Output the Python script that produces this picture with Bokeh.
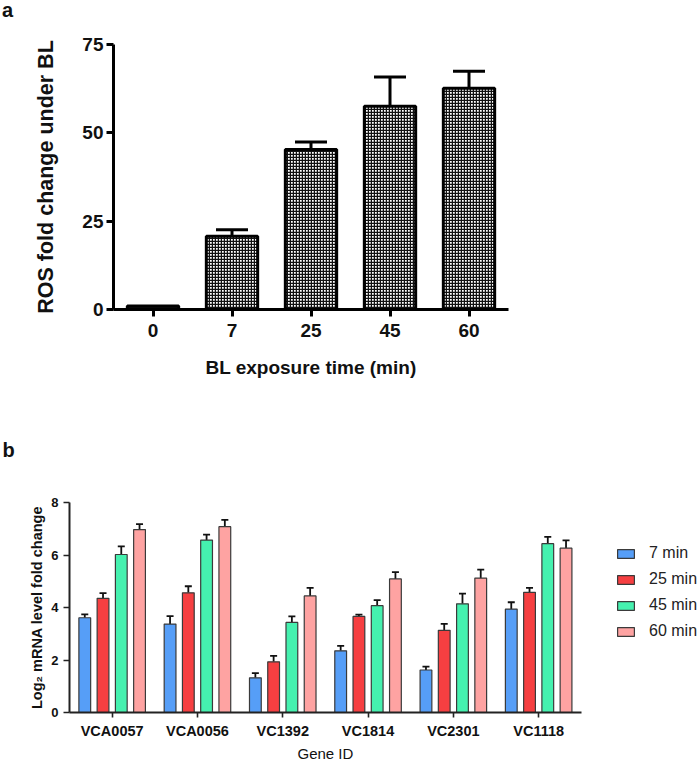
from bokeh.plotting import figure
from bokeh.models import FactorRange, Range1d, Whisker, TeeHead, ColumnDataSource, FixedTicker, Div, Title
from bokeh.transform import dodge
from bokeh.embed import file_html
from bokeh.resources import INLINE

# ---------------- data ----------------
# panel a
times = ["0", "7", "25", "45", "60"]
ros = [1.0, 20.75, 45.3, 57.5, 62.6]
ros_sem = [0.0, 1.85, 2.1, 8.3, 4.8]

# panel b
genes = ["VCA0057", "VCA0056", "VC1392", "VC1814", "VC2301", "VC1118"]
series = ["7 min", "25 min", "45 min", "60 min"]
m7 = [3.61, 3.37, 1.32, 2.35, 1.62, 3.94]
m25 = [4.35, 4.56, 1.93, 3.66, 3.13, 4.58]
m45 = [6.02, 6.57, 3.43, 4.07, 4.14, 6.43]
m60 = [6.97, 7.08, 4.44, 5.09, 5.12, 6.26]
s7 = [0.13, 0.30, 0.18, 0.19, 0.13, 0.26]
s25 = [0.20, 0.25, 0.23, 0.07, 0.25, 0.17]
s45 = [0.31, 0.21, 0.23, 0.21, 0.39, 0.26]
s60 = [0.21, 0.26, 0.31, 0.26, 0.32, 0.30]

FONT = "Liberation Sans"
TXT = "#111111"

# ---------------- panel label a ----------------
div_a = Div(text="a", width=700, height=20, margin=0,
            styles={"font-family": FONT, "font-weight": "bold", "font-size": "20px",
                    "line-height": "20px", "padding-left": "2px", "color": TXT})

# ---------------- panel a ----------------
pa = figure(width=700, height=368, x_range=FactorRange(factors=times),
            y_range=Range1d(0, 75), output_backend="svg", toolbar_location=None,
            min_border_left=113, min_border_right=192, min_border_top=24,
            min_border_bottom=79)
pa.outline_line_color = None
pa.grid.visible = False

src_a = ColumnDataSource(dict(t=times, ros=ros))
pa.vbar(x="t", top="ros", width=0.65, source=src_a, fill_color="white",
        hatch_pattern="cross", hatch_scale=3, hatch_weight=1.5, hatch_color="#111111",
        line_color="black", line_width=3)
src_ae = ColumnDataSource(dict(t=times[1:], ros=ros[1:],
                               hi=[v + e for v, e in zip(ros[1:], ros_sem[1:])]))
pa.add_layout(Whisker(base="t", lower="ros", upper="hi", source=src_ae,
                      line_color="black", line_width=3, lower_head=None,
                      upper_head=TeeHead(size=32, line_width=3, line_color="black")))

for ax in (pa.xaxis[0], pa.yaxis[0]):
    ax.axis_line_width = 3
    ax.axis_line_color = "black"
    ax.major_tick_line_width = 3
    ax.major_tick_line_color = "black"
    ax.major_tick_out = 7
    ax.major_tick_in = 0
    ax.minor_tick_out = 0
    ax.minor_tick_in = 0
    ax.major_label_text_font = FONT
    ax.major_label_text_font_style = "bold"
    ax.major_label_text_font_size = "19px"
    ax.major_label_text_color = TXT
    ax.axis_label_text_font = FONT
    ax.axis_label_text_font_style = "bold"
    ax.axis_label_text_color = TXT
pa.yaxis.ticker = FixedTicker(ticks=[0, 25, 50, 75])
pa.yaxis.major_label_standoff = 3
pa.yaxis.axis_label = "ROS fold change under BL"
pa.yaxis.axis_label_text_font_size = "21.5px"
pa.yaxis.axis_label_standoff = 21
pa.xaxis.major_label_standoff = 7
pa.xaxis.axis_label = "BL exposure time (min)"
pa.xaxis.axis_label_text_font_size = "19px"
pa.xaxis.axis_label_standoff = 17

# ---------------- panel b ----------------
n_genes = len(genes)
centers = [i + 0.5 for i in range(n_genes)]
# the frame runs on to the page's right edge so that the legend sits inside it
pb = figure(width=700, height=374, x_range=Range1d(0, 631 / 85.3),
            y_range=Range1d(0, 8), output_backend="svg", toolbar_location=None,
            min_border_left=69, min_border_right=0, min_border_top=114,
            min_border_bottom=46, title="b")
pb.outline_line_color = None
pb.grid.visible = False
pb.title.align = "left"
pb.title.offset = -67
pb.title.standoff = 84
pb.title.text_font = FONT
pb.title.text_font_style = "bold"
pb.title.text_font_size = "20px"
pb.title.text_color = TXT

means = [m7, m25, m45, m60]
sems = [s7, s25, s45, s60]
colors = ["#569EF7", "#F63F41", "#45F1AF", "#FEA3A2"]
offsets = [-0.321, -0.107, 0.107, 0.321]
for name, m, s, c, off in zip(series, means, sems, colors, offsets):
    src = ColumnDataSource(dict(x=centers, g=genes, m=m, hi=[a + b for a, b in zip(m, s)]))
    pb.vbar(x=dodge("x", off), top="m", width=0.138, source=src,
            fill_color=c, line_color="#3a3a3a", line_width=1.2, legend_label=name)
    pb.add_layout(Whisker(base=dodge("x", off), lower="m", upper="hi",
                          source=src, line_color="#111111", line_width=1.8, lower_head=None,
                          upper_head=TeeHead(size=7, line_width=1.8, line_color="#111111")))

for ax in (pb.xaxis[0], pb.yaxis[0]):
    ax.axis_line_width = 2
    ax.axis_line_color = "#222222"
    ax.major_tick_line_width = 1.6
    ax.major_tick_line_color = "#222222"
    ax.major_tick_out = 6
    ax.major_tick_in = 0
    ax.minor_tick_out = 0
    ax.minor_tick_in = 0
    ax.major_label_text_font = FONT
    ax.major_label_text_font_style = "bold"
    ax.major_label_text_color = TXT
    ax.axis_label_text_font = FONT
    ax.axis_label_text_color = TXT
pb.yaxis.ticker = FixedTicker(ticks=[0, 2, 4, 6, 8])
pb.yaxis.major_label_text_font_size = "13px"
pb.yaxis.major_label_standoff = 5
pb.yaxis.axis_label = "Log₂ mRNA level fold change"
pb.yaxis.axis_label_text_font_size = "14.5px"
pb.yaxis.axis_label_text_font_style = "bold"
pb.yaxis.axis_label_standoff = 3
pb.xaxis.bounds = (0, n_genes)
pb.xaxis.ticker = FixedTicker(ticks=centers)
pb.xaxis.major_label_overrides = {c: g for c, g in zip(centers, genes)}
pb.xaxis.major_tick_out = 5
pb.xaxis.major_label_text_font_size = "14.5px"
pb.xaxis.major_label_standoff = 5

# x-axis title, centred under the axis (not under the wider frame)
pb.add_layout(Title(text="Gene ID", align="left", offset=228, standoff=2,
                    text_font=FONT, text_font_size="15px", text_font_style="normal",
                    text_color=TXT), "below")

lg = pb.legend[0]
lg.location = (546, 71)
lg.margin = 0
lg.padding = 0
lg.spacing = 6
lg.glyph_width = 21
lg.glyph_height = 11
lg.label_height = 20
lg.label_standoff = 13
lg.label_text_font = FONT
lg.label_text_font_size = "16px"
lg.label_text_color = "#222222"
lg.border_line_color = None
lg.background_fill_alpha = 0

open("out.html", "w").write(file_html([div_a, pa, pb], INLINE))
